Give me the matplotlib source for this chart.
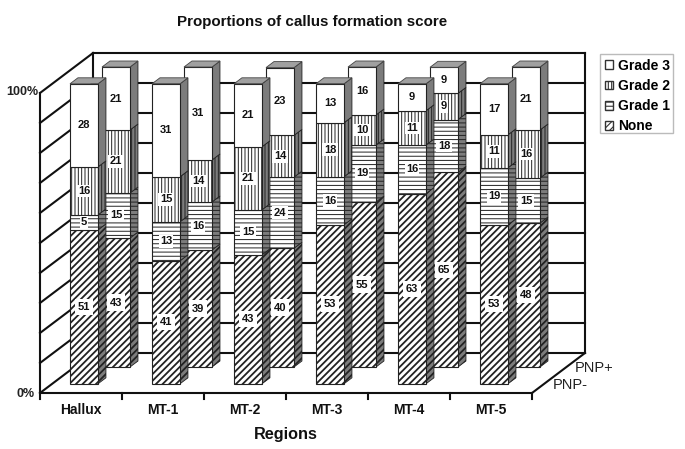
import matplotlib
matplotlib.use("Agg")
import matplotlib.pyplot as plt
from matplotlib.patches import Polygon, Patch, Rectangle

plt.rcParams['font.family'] = ['Liberation Sans', 'DejaVu Sans']
plt.rcParams['hatch.linewidth'] = 0.8

regions = ['Hallux', 'MT-1', 'MT-2', 'MT-3', 'MT-4', 'MT-5']
grades = ['None', 'Grade 1', 'Grade 2', 'Grade 3']
pnp_minus = {
    'None':    [51.3, 41, 43, 53, 63.4, 53],
    'Grade 1': [5, 13, 15, 16, 16.2, 19],
    'Grade 2': [16, 15, 21, 18, 11.4, 11],
    'Grade 3': [27.7, 31, 21, 13, 9, 17],
}
pnp_plus = {
    'None':    [43, 39, 39.6, 55, 64.9, 48],
    'Grade 1': [15, 16, 23.7, 19, 17.6, 15],
    'Grade 2': [21, 14, 13.9, 10, 8.7, 16],
    'Grade 3': [21, 31, 22.6, 16, 8.7, 21],
}
hatches = {'None': '/////', 'Grade 1': '----', 'Grade 2': '|||||', 'Grade 3': ''}
hatch_lw = {'None': 1.3, 'Grade 1': 0.7, 'Grade 2': 0.7, 'Grade 3': 0.7}
label_pad = {'None': 2.2, 'Grade 1': 1.0, 'Grade 2': 1.0, 'Grade 3': 0}
percent_ticks = ['0%', '100%']
depth_labels = ['PNP-', 'PNP+']

W, H = 685, 449
fig = plt.figure(figsize=(W / 100, H / 100), dpi=100)
ax = fig.add_axes([0, 0, 1, 1])
# 1 category = 82 px, 1 % = 3 px; origin at pixel (40, 393)
ax.set_xlim(-40 / 82, (W - 40) / 82)
ax.set_ylim(-(H - 393) / 3, 393 / 3)
ax.axis('off')

DX, DY = 53 / 82, 40 / 3


def P(x, v, d=0.0):
    return (x + d * DX, v + d * DY)


def line(a, b, lw=1.5, z=1):
    ax.plot([a[0], b[0]], [a[1], b[1]], color='#111111', lw=lw, zorder=z,
            solid_capstyle='projecting')


def face(pts, fc, ec, h, g, lw, z):
    p = Polygon(pts, facecolor=fc, edgecolor=ec, hatch=h, lw=lw, zorder=z)
    if hasattr(p, 'set_hatch_linewidth'):
        p.set_hatch_linewidth(hatch_lw[g])
    ax.add_patch(p)


n = len(regions)
# walls and floor
for v in range(0, 101, 10):
    line(P(0, v), P(0, v, 1))
    line(P(0, v, 1), P(n, v, 1))
line(P(0, 0), P(0, 100))
line(P(0, 0, 1), P(0, 100, 1))
line(P(n, 0, 1), P(n, 100, 1))
line(P(0, 0), P(n, 0))
line(P(n, 0), P(n, 0, 1))
for i in range(n + 1):
    line(P(i, 0), P(i, -2))
ax.text(*P(-0.06, -0.3), percent_ticks[0], ha='right', va='center', fontsize=9, fontweight='bold', color='#222222')
ax.text(*P(-0.02, 100.3), percent_ticks[1], ha='right', va='center', fontsize=9, fontweight='bold', color='#222222')
for i, r in enumerate(regions):
    ax.text(i + 0.5, -5.8, r, ha='center', va='center', fontsize=10, fontweight='bold', color='#111111')
ax.text(3.0, -13.7, 'Regions', ha='center', va='center', fontsize=11.7, fontweight='bold', color='#111111')
ax.text(3.32, 123.7, 'Proportions of callus formation score', ha='center', va='center',
        fontsize=10.9, fontweight='bold', color='#111111')
ax.text(6.256, 2.67, depth_labels[0], ha='left', va='center', fontsize=10.5, color='#222222')
ax.text(6.524, 8.33, depth_labels[1], ha='left', va='center', fontsize=10.5, color='#222222')

BW = 28 / 82
BD = 0.15


def draw_bar(x0, d0, values, z):
    base = 0
    for g, v in zip(grades, values):
        top = base + v
        h = hatches[g]
        face([P(x0 + BW, base, d0), P(x0 + BW, top, d0),
              P(x0 + BW, top, d0 + BD), P(x0 + BW, base, d0 + BD)],
             '#7c7c7c', '#222222', h, g, 0.6, z)
        face([P(x0, base, d0), P(x0 + BW, base, d0),
              P(x0 + BW, top, d0), P(x0, top, d0)],
             'white', '#222222', h, g, 0.8, z + 0.1)
        cx, cy = P(x0 + BW / 2, (base + top) / 2, d0)
        bbox = dict(facecolor='white', edgecolor='none', pad=label_pad[g]) if h else None
        ax.text(cx, cy, f'{v:.0f}', ha='center', va='center', fontsize=8, fontweight='bold',
                color='#111111', bbox=bbox, zorder=z + 0.2)
        base = top
    ax.add_patch(Polygon([P(x0, base, d0), P(x0 + BW, base, d0),
                          P(x0 + BW, base, d0 + BD), P(x0, base, d0 + BD)],
                         facecolor='#a0a0a0', edgecolor='#444444', lw=0.6, zorder=z + 0.1))


z = 3
for i in range(n):
    draw_bar(i + 0.336, 0.65, [pnp_plus[g][i] for g in grades], z)
    z += 1
for i in range(n):
    draw_bar(i + 0.217, 0.23, [pnp_minus[g][i] for g in grades], z)
    z += 1

ax.add_patch(Rectangle((600 / W, 1 - 133 / H), 73 / W, 79 / H, transform=fig.transFigure,
                       facecolor='white', edgecolor='#bbbbbb', lw=1.0, zorder=40, clip_on=False))
handles = [Patch(facecolor='white', edgecolor='#333333', hatch=hatches[g], label=g) for g in reversed(grades)]
leg = ax.legend(handles=handles, loc='upper left', bbox_to_anchor=(600 / W, 1 - 54 / H),
                bbox_transform=fig.transFigure, frameon=False, borderaxespad=0, borderpad=0.33,
                labelspacing=0.45, handlelength=0.6, handleheight=0.6, handletextpad=0.35,
                prop=dict(size=10, weight='bold'))
leg.set_zorder(50)

fig.savefig('out.png', dpi=100)
